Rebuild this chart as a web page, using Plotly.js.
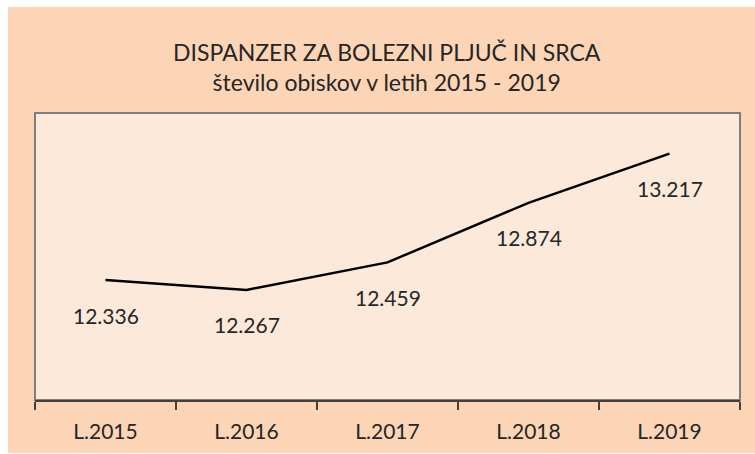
<!DOCTYPE html>
<html>
<head>
<meta charset="utf-8">
<script src="https://cdn.plot.ly/plotly-3.0.1.min.js"></script>
<style>
  html, body { margin: 0; padding: 0; background: #ffffff; width: 755px; height: 454px; overflow: hidden; }
  #chart { position: absolute; left: 8px; top: 7px; width: 747px; height: 446px; }
</style>
</head>
<body>
<div id="chart"></div>
<script>
const categories = ["L.2015", "L.2016", "L.2017", "L.2018", "L.2019"];
const visits = [12336, 12267, 12459, 12874, 13217];
const titleLine1 = "DISPANZER ZA BOLEZNI PLJUČ IN SRCA";
const titleLine2 = "število obiskov v letih 2015 - 2019";

function fmt(v) {
  return String(v).replace(/\B(?=(\d{3})+(?!\d))/g, ".");
}

const FONT = "Lato, 'Open Sans', sans-serif";
const TXT = "#262626";

const trace = {
  type: "scatter",
  mode: "lines",
  x: categories,
  y: visits,
  line: { color: "#000000", width: 2.5 },
  hoverinfo: "skip",
  showlegend: false
};

const annotations = categories.map((c, i) => ({
  x: c, y: visits[i], xref: "x", yref: "y",
  text: fmt(visits[i]),
  showarrow: false,
  yshift: -35,
  font: { family: FONT, size: 21, color: TXT }
}));

const layout = {
  width: 747, height: 446,
  margin: { l: 27, r: 15, t: 106, b: 53 },
  paper_bgcolor: "#FBD5B5",
  plot_bgcolor: "#FDE9D9",
  font: { family: FONT, color: TXT },
  title: {
    text: titleLine1 + "<br>" + titleLine2,
    font: { family: FONT, size: 23, color: TXT },
    x: 0.507, xref: "container", xanchor: "center",
    y: 1 - 54 / 446, yref: "container", yanchor: "top"
  },
  xaxis: {
    type: "category",
    range: [-0.5, 4.5],
    tickson: "boundaries",
    ticks: "outside",
    ticklen: 8,
    tickwidth: 1.5,
    tickcolor: "#404040",
    showline: true,
    linecolor: "#404040",
    linewidth: 1.5,
    showgrid: false,
    zeroline: false,
    ticklabelstandoff: 12,
    tickfont: { family: FONT, size: 21, color: TXT },
    fixedrange: true
  },
  yaxis: {
    range: [11500, 13500],
    visible: false,
    showgrid: false,
    zeroline: false,
    fixedrange: true
  },
  shapes: [{
    type: "rect", xref: "paper", yref: "paper",
    x0: 0, x1: 1, y0: 0, y1: 1,
    line: { color: "#7F7F7F", width: 2 },
    fillcolor: "rgba(0,0,0,0)",
    layer: "below"
  }],
  annotations: annotations
};

Plotly.newPlot("chart", [trace], layout, { displayModeBar: false, staticPlot: true });
</script>
</body>
</html>
